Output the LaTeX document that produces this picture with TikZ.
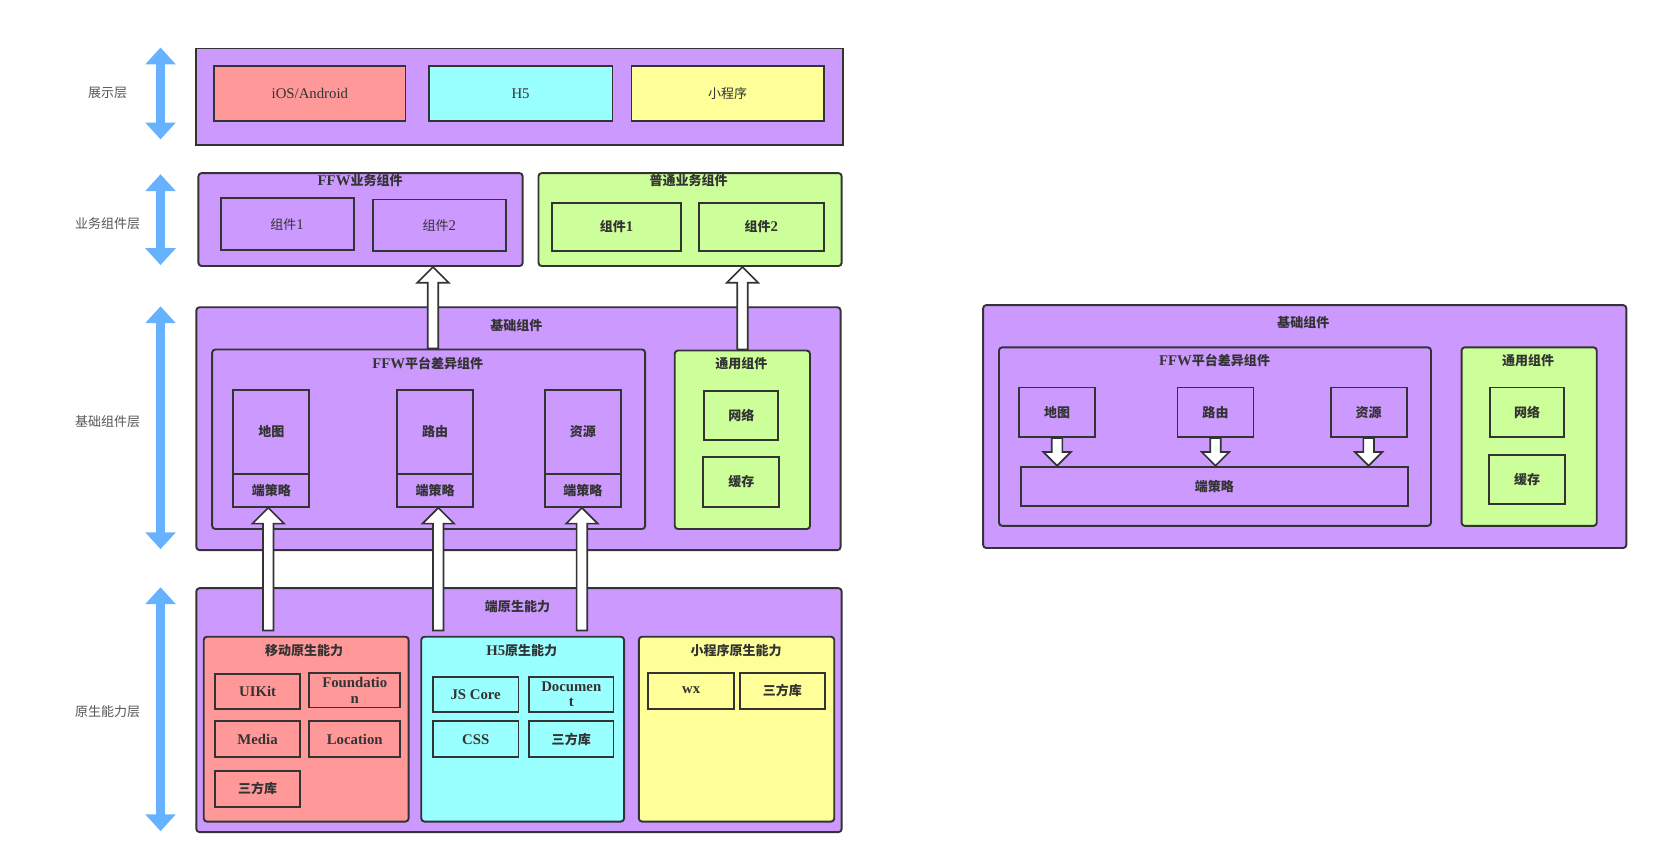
\documentclass[tikz,border=0pt]{standalone}
\usepackage{fontspec}
\setmainfont{Liberation Serif}
\newfontfamily\cjk[Scale=0.88]{Noto Sans CJK SC}
\newcommand\zh[1]{{\cjk #1}}
\usetikzlibrary{calc,arrows.meta}
\definecolor{lc}{HTML}{333333}
\definecolor{pur}{HTML}{CC99FF}
\definecolor{pnk}{HTML}{FF9999}
\definecolor{cyn}{HTML}{99FFFF}
\definecolor{ylw}{HTML}{FFFF99}
\definecolor{grn}{HTML}{CCFF99}
\definecolor{blu}{HTML}{66B2FF}
\definecolor{lblc}{HTML}{555555}
\newcommand\mybox[7]{\node[#1, minimum width=#5-#3, minimum height=#6-#4] (#2) at (#3,#4) {#7};}
\newcommand\hup[2]{\draw[hollow] let \p1=#1, \p2=#2 in (\x1-5pt,\y1) -- (\x1-5pt,\y2-15pt) -- (\x1-15pt,\y2-15pt) -- (\x1,\y2) -- (\x1+15pt,\y2-15pt) -- (\x1+5pt,\y2-15pt) -- (\x1+5pt,\y1) -- cycle;}
\newcommand\hdown[2]{\draw[hollow] let \p1=#1, \p2=#2 in (\x1-5pt,\y1) -- (\x1-5pt,\y2+13pt) -- (\x1-13pt,\y2+13pt) -- (\x1,\y2) -- (\x1+13pt,\y2+13pt) -- (\x1+5pt,\y2+13pt) -- (\x1+5pt,\y1) -- cycle;}
\begin{document}
\begin{tikzpicture}[x=1pt,y=-1pt, font=\fontsize{14}{15}\selectfont, text=lc,
  bx/.style={draw=lc, line width=1.8pt, inner sep=0pt, align=center, anchor=north west},
  rb/.style={bx, rounded corners=3pt},
  bb/.style={bx, font=\fontsize{14}{15}\selectfont\bfseries},
  ttl/.style={font=\fontsize{14}{15}\selectfont\bfseries, inner sep=0pt},
  lbl/.style={text=lblc, inner sep=0pt},
  blarrow/.style={draw=blu, line width=9pt, {Triangle[width=28pt,length=16pt]}-{Triangle[width=28pt,length=16pt]}},
  hollow/.style={draw=lc, fill=white, line width=1.6pt, line join=miter}]
\useasboundingbox (0,0) rectangle (1568,816);
% left labels and arrows
\node[lbl] (l1) at (102,88) {\zh{展示层}};
\node[lbl] (l2) at (102,212) {\zh{业务组件层}};
\node[lbl] (l3) at (102,399) {\zh{基础组件层}};
\node[lbl] (l4) at (102,674) {\zh{原生能力层}};
\coordinate (a1t) at (152,45); \coordinate (a1b) at (152,132);
\coordinate (a2t) at (152,165); \coordinate (a2b) at (152,251);
\coordinate (a3t) at (152,290); \coordinate (a3b) at (152,520);
\coordinate (a4t) at (152,556); \coordinate (a4b) at (152,787);
\draw[blarrow] (a1t) -- (a1b);
\draw[blarrow] (a2t) -- (a2b);
\draw[blarrow] (a3t) -- (a3b);
\draw[blarrow] (a4t) -- (a4b);
% presentation layer
\mybox{bx,fill=pur}{top}{185}{45}{797}{136}{}
\mybox{bx,fill=pnk}{ios}{202}{62}{383}{114}{iOS/Android}
\mybox{bx,fill=cyn}{h5}{405}{62}{579}{114}{H5}
\mybox{bx,fill=ylw}{mini}{597}{62}{779}{114}{\zh{小程序}}
% business layer
\mybox{rb,fill=pur}{ffwB}{187}{163}{494}{251}{}
\node[ttl] (ffwBt) at (341,171) {FFW\zh{业务组件}};
\mybox{bx,fill=pur}{c1}{208}{187}{334}{236}{\zh{组件}1}
\mybox{bx,fill=pur}{c2}{352}{188}{478}{237}{\zh{组件}2}
\mybox{rb,fill=grn}{genB}{509}{163}{796}{251}{}
\node[ttl] (genBt) at (652,171) {\zh{普通业务组件}};
\mybox{bb,fill=grn}{g1}{522}{191}{644}{237}{\zh{组件}1}
\mybox{bb,fill=grn}{g2}{661}{191}{779}{237}{\zh{组件}2}
% base layer
\mybox{rb,fill=pur}{base}{185}{290}{795}{520}{}
\node[ttl] (baset) at (489,308) {\zh{基础组件}};
\mybox{rb,fill=pur}{diff}{200}{330}{610}{500}{}
\node[ttl] (difft) at (405,344) {FFW\zh{平台差异组件}};
\mybox{bb,fill=pur}{map}{220}{368}{292}{448}{\zh{地图}}
\mybox{bb,fill=pur}{mapS}{220}{448}{292}{479}{\zh{端策略}}
\mybox{bb,fill=pur}{route}{375}{368}{447}{448}{\zh{路由}}
\mybox{bb,fill=pur}{routeS}{375}{448}{447}{479}{\zh{端策略}}
\mybox{bb,fill=pur}{res}{515}{368}{587}{448}{\zh{资源}}
\mybox{bb,fill=pur}{resS}{515}{448}{587}{479}{\zh{端策略}}
\mybox{rb,fill=grn}{gen}{638}{331}{766}{500}{}
\node[ttl] (gent) at (702,344) {\zh{通用组件}};
\mybox{bb,fill=grn}{net}{666}{369}{736}{416}{\zh{网络}}
\mybox{bb,fill=grn}{cache}{665}{432}{737}{479}{\zh{缓存}}
% native layer
\mybox{rb,fill=pur}{nat}{185}{556}{796}{787}{}
\node[ttl] (natt) at (490,574) {\zh{端原生能力}};
\mybox{rb,fill=pnk}{mob}{192}{602}{386}{777}{}
\node[ttl] (mobt) at (288,616) {\zh{移动原生能力}};
\mybox{bb,fill=pnk}{uikit}{203}{637}{283}{670}{UIKit}
\mybox{bb,fill=pnk}{found}{292}{636}{378}{669}{Foundatio\\n}
\mybox{bb,fill=pnk}{media}{203}{682}{283}{716}{Media}
\mybox{bb,fill=pnk}{loc}{292}{682}{378}{716}{Location}
\mybox{bb,fill=pnk}{mlib}{203}{729}{283}{763}{\zh{三方库}}
\mybox{rb,fill=cyn}{h5n}{398}{602}{590}{777}{}
\node[ttl] (h5nt) at (494,616) {H5\zh{原生能力}};
\mybox{bb,fill=cyn}{jsc}{409}{640}{490}{673}{JS Core}
\mybox{bb,fill=cyn}{doc}{500}{640}{580}{673}{Documen\\t}
\mybox{bb,fill=cyn}{css}{409}{682}{490}{716}{CSS}
\mybox{bb,fill=cyn}{hlib}{500}{682}{580}{716}{\zh{三方库}}
\mybox{rb,fill=ylw}{mpn}{604}{602}{789}{777}{}
\node[ttl] (mpnt) at (697,616) {\zh{小程序原生能力}};
\mybox{bb,fill=ylw}{wx}{613}{636}{694}{670}{wx}
\mybox{bb,fill=ylw}{plib}{700}{636}{780}{670}{\zh{三方库}}
% right diagram
\mybox{rb,fill=pur}{rbase}{930}{288}{1539}{518}{}
\node[ttl] (rbaset) at (1234,305) {\zh{基础组件}};
\mybox{rb,fill=pur}{rdiff}{945}{328}{1354}{497}{}
\node[ttl] (rdifft) at (1150,341) {FFW\zh{平台差异组件}};
\mybox{bb,fill=pur}{rmap}{964}{366}{1036}{413}{\zh{地图}}
\mybox{bb,fill=pur}{rroute}{1114}{366}{1186}{413}{\zh{路由}}
\mybox{bb,fill=pur}{rres}{1259}{366}{1331}{413}{\zh{资源}}
\mybox{bb,fill=pur}{rS}{966}{441}{1332}{478}{\zh{端策略}}
\mybox{rb,fill=grn}{rgen}{1383}{328}{1511}{497}{}
\node[ttl] (rgent) at (1447,341) {\zh{通用组件}};
\mybox{bb,fill=grn}{rnet}{1410}{366}{1480}{413}{\zh{网络}}
\mybox{bb,fill=grn}{rcache}{1409}{430}{1481}{476}{\zh{缓存}}
% hollow arrows
\coordinate (x410) at (410,0);
\coordinate (x703) at (703,0);
\coordinate (s1) at (254,597);
\coordinate (s2) at (415,597);
\coordinate (s3) at (551,597);
\hup{(diff.north -| x410)}{(ffwB.south -| x410)}
\hup{(gen.north -| x703)}{(genB.south -| x703)}
\hup{(s1)}{(mapS.south -| s1)}
\hup{(s2)}{(routeS.south -| s2)}
\hup{(s3)}{(resS.south -| s3)}
\hdown{(rmap.south)}{(rS.north -| rmap.south)}
\hdown{(rroute.south)}{(rS.north -| rroute.south)}
\hdown{(rres.south)}{(rS.north -| rres.south)}
\end{tikzpicture}
\end{document}
